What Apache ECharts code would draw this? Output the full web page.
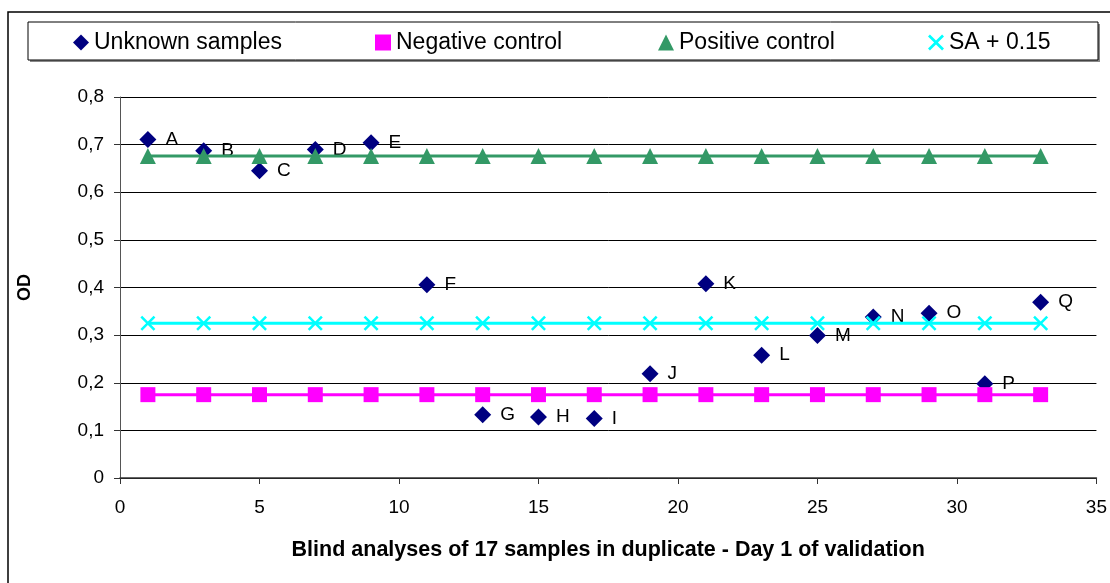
<!DOCTYPE html>
<html><head><meta charset="utf-8">
<script src="https://cdn.jsdelivr.net/npm/echarts@6/dist/echarts.min.js"></script>
<style>html,body{margin:0;padding:0;background:#fff}#c{width:1110px;height:583px}</style>
</head><body><div id="c"></div>
<script>
const sampleX = [1, 3, 5, 7, 9, 11, 13, 15, 17, 19, 21, 23, 25, 27, 29, 31, 33];
const sampleLabels = ['A','B','C','D','E','F','G','H','I','J','K','L','M','N','O','P','Q'];
const unknownOD = [0.711, 0.687, 0.645, 0.690, 0.704, 0.406, 0.133, 0.128, 0.125, 0.219, 0.408, 0.258, 0.299, 0.338, 0.346, 0.198, 0.369];
const negativeOD = [0.175, 0.175, 0.175, 0.175, 0.175, 0.175, 0.175, 0.175, 0.175, 0.175, 0.175, 0.175, 0.175, 0.175, 0.175, 0.175, 0.175];
const positiveOD = [0.676, 0.676, 0.676, 0.676, 0.676, 0.676, 0.676, 0.676, 0.676, 0.676, 0.676, 0.676, 0.676, 0.676, 0.676, 0.676, 0.676];
const saOD = [0.325, 0.325, 0.325, 0.325, 0.325, 0.325, 0.325, 0.325, 0.325, 0.325, 0.325, 0.325, 0.325, 0.325, 0.325, 0.325, 0.325];
const seriesNames = ['Unknown samples', 'Negative control', 'Positive control', 'SA + 0.15'];
const yTicks = ['0', '0,1', '0,2', '0,3', '0,4', '0,5', '0,6', '0,7', '0,8'];

const FONT = '"Liberation Sans", Arial, sans-serif';
const crossPath = 'path://M0,1.2L1.2,0L5,3.8L8.8,0L10,1.2L6.2,5L10,8.8L8.8,10L5,6.2L1.2,10L0,8.8L3.8,5Z';
const pair = arr => sampleX.map((x, i) => [x, arr[i]]);

const chart = echarts.init(document.getElementById('c'), null, {renderer: 'canvas'});
const legendBase = {
  orient: 'horizontal', top: 31, padding: 0, itemWidth: 16, itemHeight: 16, itemGap: 0,
  selectedMode: false,
  textStyle: {fontFamily: FONT, fontSize: 23, color: '#000'}
};
chart.setOption({
  animation: false,
  backgroundColor: '#fff',
  graphic: [
    {type: 'rect', z: -10, shape: {x: 8, y: 12, width: 1200, height: 700}, style: {fill: 'none', stroke: '#000', lineWidth: 1.5}},
    {type: 'rect', z: -6, shape: {x: 30, y: 24, width: 1070, height: 38}, style: {fill: '#888', stroke: 'none'}},
    {type: 'rect', z: -5, shape: {x: 28, y: 22, width: 1070, height: 38}, style: {fill: '#fff', stroke: '#000', lineWidth: 1}}
  ],
  legend: [
    Object.assign({}, legendBase, {left: 73, data: [{name: seriesNames[0], icon: 'diamond'}]}),
    Object.assign({}, legendBase, {left: 375, data: [{name: seriesNames[1], icon: 'rect'}]}),
    Object.assign({}, legendBase, {left: 658, data: [{name: seriesNames[2], icon: 'triangle'}]}),
    Object.assign({}, legendBase, {left: 928, data: [{name: seriesNames[3], icon: crossPath}]})
  ],
  grid: {left: 120, right: 8, top: 97, bottom: 105, containLabel: false},
  xAxis: {
    type: 'value', min: 0, max: 35, interval: 5,
    name: 'Blind analyses of 17 samples in duplicate - Day 1 of validation',
    nameLocation: 'middle', nameGap: 61,
    nameTextStyle: {fontFamily: FONT, fontSize: 21.5, fontWeight: 'bold', color: '#000'},
    axisLine: {show: true, onZero: false, lineStyle: {color: '#333', width: 1.5}},
    axisTick: {show: true, inside: false, length: 6, lineStyle: {color: '#333'}},
    axisLabel: {fontFamily: FONT, fontSize: 19, color: '#000', margin: 20},
    splitLine: {show: false}
  },
  yAxis: {
    type: 'value', min: 0, max: 0.8, interval: 0.1,
    name: 'OD', nameLocation: 'middle', nameRotate: 90, nameGap: 86,
    nameTextStyle: {fontFamily: FONT, fontSize: 18, fontWeight: 'bold', color: '#000'},
    axisLine: {show: true, lineStyle: {color: '#555', width: 1}},
    axisTick: {show: true, inside: false, length: 6, lineStyle: {color: '#333'}},
    axisLabel: {fontFamily: FONT, fontSize: 19, color: '#000', margin: 16,
      formatter: (v) => yTicks[Math.round(v * 10)]},
    splitLine: {show: true, lineStyle: {color: '#000', width: 1}}
  },
  series: [
    {
      name: seriesNames[0], type: 'scatter', data: pair(unknownOD),
      symbol: 'diamond', symbolSize: 17,
      itemStyle: {color: '#000080', opacity: 1},
      label: {show: true, position: 'right', distance: 9, fontFamily: FONT, fontSize: 19, color: '#000',
        formatter: (p) => sampleLabels[p.dataIndex]}
    },
    {
      name: seriesNames[1], type: 'line', data: pair(negativeOD),
      symbol: 'rect', symbolSize: 15, showSymbol: true,
      itemStyle: {color: '#FF00FF'}, lineStyle: {color: '#FF00FF', width: 3}
    },
    {
      name: seriesNames[2], type: 'line', data: pair(positiveOD),
      symbol: 'triangle', symbolSize: 16, showSymbol: true,
      itemStyle: {color: '#339966'}, lineStyle: {color: '#339966', width: 3}
    },
    {
      name: seriesNames[3], type: 'line', data: pair(saOD),
      symbol: crossPath, symbolSize: 15, showSymbol: true,
      itemStyle: {color: '#00FFFF'}, lineStyle: {color: '#00FFFF', width: 3}
    }
  ]
});
</script>
</body></html>
